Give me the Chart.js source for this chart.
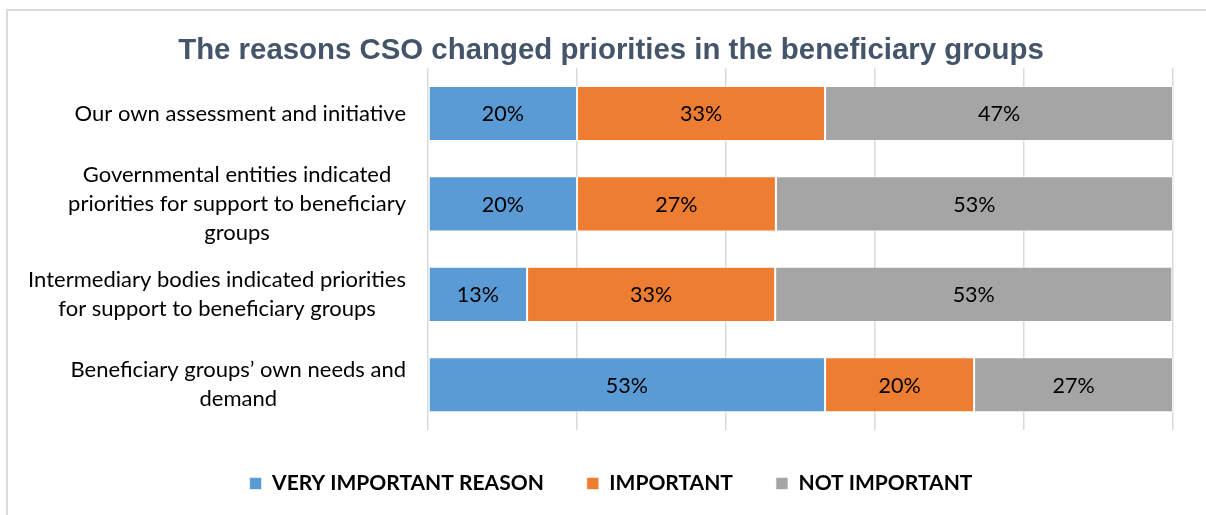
<!DOCTYPE html>
<html>
<head>
<meta charset="utf-8">
<script src="https://cdn.jsdelivr.net/npm/chart.js@4.4.0/dist/chart.umd.min.js"></script>
<style>
    html, body { margin: 0; padding: 0; background: #ffffff; overflow: hidden; }
    #wrap { position: relative; width: 1206px; height: 515px; }
    #frame { position: absolute; left: 6px; top: 9px; width: 1300px; height: 600px; border-left: 2px solid #d9d9d9; border-top: 2px solid #d9d9d9; }
    #chart { position: absolute; left: 0; top: 0; }
</style>
</head>
<body>
<div id="wrap">
    <div id="frame"></div>
    <canvas id="chart" width="1206" height="515"></canvas>
</div>
<script>
// kategoriler (her satır ayrı bir satır metni)
const kategoriler = [
    ['Our own assessment and initiative'],
    ['Governmental entities indicated', 'priorities for support to beneficiary', 'groups'],
    ['Intermediary bodies indicated priorities', 'for support to beneficiary groups'],
    ['Beneficiary groups\u2019 own needs and', 'demand']
];

// yüzdeler
const cokOnemli = [20, 20, 13.3, 53.3];
const onemli = [33.3, 26.7, 33.3, 20];
const onemsiz = [46.7, 53.3, 53.3, 26.7];

const seriAdlari = ['VERY IMPORTANT REASON', 'IMPORTANT', 'NOT IMPORTANT'];
const renkler = ['#5b9bd5', '#ed7d31', '#a5a5a5'];
const eksenDegerleri = [0, 20, 40, 60, 80, 100];

const etiketFont = '22px Lato';

// Çubukların içine yüzde yazısı
const degerEtiketleri = {
    id: 'degerEtiketleri',
    afterDatasetsDraw(chart) {
        const ctx = chart.ctx;
        ctx.save();
        ctx.font = '21.5px Lato';
        ctx.fillStyle = '#000000';
        ctx.textAlign = 'center';
        ctx.textBaseline = 'middle';
        chart.data.datasets.forEach((ds, i) => {
            const meta = chart.getDatasetMeta(i);
            meta.data.forEach((bar, j) => {
                const x = (bar.x + bar.base) / 2;
                ctx.fillText(Math.round(ds.data[j]) + '%', x, bar.y + 1);
            });
        });
        ctx.restore();
    }
};

// Y ekseni yazıları: her blok kendi içinde ortalı, en geniş satır sağa dayalı
const kategoriYazilari = {
    id: 'kategoriYazilari',
    afterDraw(chart) {
        const ctx = chart.ctx;
        const y = chart.scales.y;
        const satirYuksekligi = 29;
        ctx.save();
        ctx.font = etiketFont;
        ctx.fillStyle = '#000000';
        ctx.textAlign = 'center';
        ctx.textBaseline = 'middle';
        kategoriler.forEach((satirlar, i) => {
            const genislik = Math.max(...satirlar.map(s => ctx.measureText(s).width));
            const cx = y.right - 22 - genislik / 2;
            const cy = y.getPixelForValue(i);
            const ust = cy - (satirlar.length - 1) * satirYuksekligi / 2;
            satirlar.forEach((s, k) => ctx.fillText(s, cx, ust + k * satirYuksekligi));
        });
        ctx.restore();
    }
};

const veriSetleri = [cokOnemli, onemli, onemsiz].map((d, i) => ({
    label: seriAdlari[i],
    data: d,
    backgroundColor: renkler[i],
    borderColor: 'rgba(255,255,255,0.6)',
    borderWidth: 1,
    borderSkipped: false,
    barPercentage: 0.61,
    categoryPercentage: 1
}));

new Chart(document.getElementById('chart'), {
    type: 'bar',
    data: { labels: kategoriler, datasets: veriSetleri },
    options: {
        indexAxis: 'y',
        responsive: false,
        animation: false,
        layout: { padding: { left: 16, right: 0, top: 0, bottom: 11 } },
        scales: {
            x: {
                stacked: true,
                min: eksenDegerleri[0],
                max: eksenDegerleri[eksenDegerleri.length - 1],
                afterBuildTicks: (scale) => { scale.ticks = eksenDegerleri.map(v => ({ value: v })); },
                ticks: { display: false },
                grid: { color: '#d9d9d9', lineWidth: 1.5, drawTicks: false },
                border: { display: false }
            },
            y: {
                stacked: true,
                ticks: { display: false },
                grid: { display: false },
                border: { display: false },
                afterFit: (scale) => { scale.width = 412; }
            },
            // sağ tarafta boşluk bırakan boş eksen
            ySag: {
                position: 'right',
                ticks: { display: false },
                grid: { display: false },
                border: { display: false },
                afterFit: (scale) => { scale.width = 33; }
            }
        },
        plugins: {
            title: {
                display: true,
                text: 'The reasons CSO changed priorities in the beneficiary groups',
                color: '#44546a',
                font: { family: 'Liberation Sans', size: 29.4, weight: 'bold' },
                padding: { top: 33, bottom: 0 }
            },
            legend: {
                position: 'bottom',
                labels: {
                    boxWidth: 12,
                    boxHeight: 12,
                    padding: 43,
                    color: '#000000',
                    font: { family: 'Lato', size: 21, weight: 'bold' }
                }
            },
            tooltip: { enabled: false }
        }
    },
    plugins: [degerEtiketleri, kategoriYazilari]
});
</script>
</body>
</html>
